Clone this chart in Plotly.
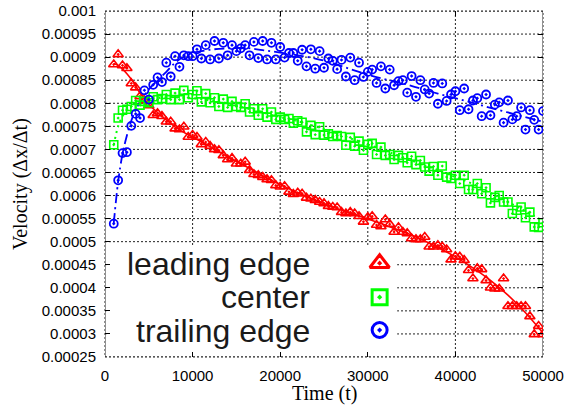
import plotly.graph_objects as go

# ---------------- data ----------------
time = list(range(1000, 50001, 500))

leading_edge = [
    0.000884, 0.000906, 0.000882, 0.000876, 0.000843, 0.000834, 0.000815, 0.000806, 0.000795, 0.000774,
    0.000778, 0.000772, 0.000760, 0.000760, 0.000745, 0.000743, 0.000749, 0.000727, 0.000731, 0.000727,
    0.000711, 0.000716, 0.000707, 0.000700, 0.000698, 0.000687, 0.000678, 0.000681, 0.000669, 0.000669,
    0.000673, 0.000655, 0.000646, 0.000644, 0.000640, 0.000635, 0.000633, 0.000622, 0.000619, 0.000620,
    0.000608, 0.000603, 0.000606, 0.000604, 0.000595, 0.000593, 0.000590, 0.000586, 0.000583, 0.000577,
    0.000575, 0.000574, 0.000564, 0.000561, 0.000564, 0.000561, 0.000555, 0.000543, 0.000553, 0.000555,
    0.000536, 0.000533, 0.000548, 0.000538, 0.000521, 0.000531, 0.000521, 0.000518, 0.000507, 0.000505,
    0.000505, 0.000510, 0.000489, 0.000489, 0.000492, 0.000489, 0.000483, 0.000461, 0.000468, 0.000467,
    0.000460, 0.000438, 0.000420, 0.000442, 0.000440, 0.000416, 0.000400, 0.000398, 0.000398, 0.000420,
    0.000360, 0.000360, 0.000360, 0.000360, 0.000360, 0.000338, 0.000299, 0.000317, 0.000299,
]

center = [
    0.000710, 0.000768, 0.000785, 0.000787, 0.000793, 0.000806, 0.000796, 0.000804, 0.000801, 0.000814,
    0.000808, 0.000810, 0.000819, 0.000808, 0.000822, 0.000808, 0.000828, 0.000812, 0.000819, 0.000827,
    0.000803, 0.000821, 0.000801, 0.000812, 0.000793, 0.000809, 0.000791, 0.000804, 0.000793, 0.000791,
    0.000799, 0.000781, 0.000788, 0.000774, 0.000788, 0.000770, 0.000781, 0.000765, 0.000770, 0.000765,
    0.000767, 0.000757, 0.000762, 0.000759, 0.000738, 0.000752, 0.000732, 0.000749, 0.000731, 0.000734,
    0.000728, 0.000730, 0.000728, 0.000709, 0.000726, 0.000707, 0.000718, 0.000698, 0.000711, 0.000713,
    0.000689, 0.000705, 0.000687, 0.000689, 0.000678, 0.000687, 0.000682, 0.000671, 0.000685, 0.000667,
    0.000676, 0.000662, 0.000653, 0.000663, 0.000644, 0.000664, 0.000640, 0.000637, 0.000644, 0.000626,
    0.000644, 0.000613, 0.000613, 0.000626, 0.000604, 0.000617, 0.000584, 0.000596, 0.000600, 0.000586,
    0.000586, 0.000561, 0.000568, 0.000575, 0.000552, 0.000564, 0.000532, 0.000531, 0.000541,
]

trailing_edge = [
    0.000539, 0.000633, 0.000692, 0.000694, 0.000751, 0.000777, 0.000768, 0.000828, 0.000808, 0.000840,
    0.000856, 0.000846, 0.000888, 0.000858, 0.000902, 0.000879, 0.000904, 0.000902, 0.000902, 0.000917,
    0.000897, 0.000926, 0.000895, 0.000935, 0.000897, 0.000931, 0.000904, 0.000926, 0.000913, 0.000919,
    0.000926, 0.000904, 0.000933, 0.000898, 0.000935, 0.000895, 0.000931, 0.000895, 0.000922, 0.000899,
    0.000909, 0.000909, 0.000892, 0.000916, 0.000880, 0.000917, 0.000875, 0.000913, 0.000877, 0.000897,
    0.000892, 0.000874, 0.000894, 0.000858, 0.000899, 0.000850, 0.000888, 0.000857, 0.000868, 0.000873,
    0.000844, 0.000880, 0.000832, 0.000873, 0.000839, 0.000848, 0.000850, 0.000823, 0.000859, 0.000814,
    0.000850, 0.000830, 0.000821, 0.000844, 0.000799, 0.000843, 0.000805, 0.000819, 0.000826, 0.000785,
    0.000832, 0.000787, 0.000806, 0.000811, 0.000772, 0.000819, 0.000774, 0.000797, 0.000802, 0.000758,
    0.000806, 0.000765, 0.000772, 0.000791, 0.000743, 0.000785, 0.000764, 0.000743, 0.000783,
]

# fitted curves
fit_time = [1000, 1500, 2000, 2500, 3000, 3500, 4000, 5000, 6000, 7000, 8000, 9000, 10000,
            12000, 14000, 16000, 18000, 20000, 22000, 24000, 26000, 28000, 30000, 32000,
            34000, 36000, 38000, 40000, 42000, 44000, 46000, 48000, 50000]
fit_leading = [0.000886, 0.000882, 0.000874, 0.000864, 0.000852, 0.000838, 0.000822, 0.000798, 0.000780,
               0.000764, 0.000749, 0.000737, 0.000727, 0.000706, 0.000684, 0.000664, 0.000643, 0.000624,
               0.000606, 0.000590, 0.000575, 0.000562, 0.000549, 0.000536, 0.000522, 0.000506, 0.000488,
               0.000467, 0.000443, 0.000416, 0.000384, 0.000346, 0.000302]
fit_center = [0.000710, 0.000750, 0.000772, 0.000785, 0.000793, 0.000799, 0.000803, 0.000808, 0.000811,
              0.000813, 0.000813, 0.000812, 0.000811, 0.000806, 0.000800, 0.000790, 0.000780, 0.000770,
              0.000761, 0.000750, 0.000738, 0.000724, 0.000711, 0.000697, 0.000683, 0.000669, 0.000655,
              0.000640, 0.000625, 0.000606, 0.000586, 0.000566, 0.000545]
fit_trailing = [0.000540, 0.000630, 0.000690, 0.000730, 0.000762, 0.000785, 0.000803, 0.000830, 0.000850,
                0.000868, 0.000888, 0.000901, 0.000909, 0.000916, 0.000919, 0.000920, 0.000915, 0.000910,
                0.000904, 0.000897, 0.000887, 0.000874, 0.000862, 0.000852, 0.000843, 0.000832, 0.000821,
                0.000811, 0.000801, 0.000790, 0.000780, 0.000770, 0.000760]

series_names = ["leading edge", "center", "trailing edge"]
x_tick_vals = [0, 10000, 20000, 30000, 40000, 50000]
x_tick_text = ["0", "10000", "20000", "30000", "40000", "50000"]
y_tick_vals = [0.00025, 0.0003, 0.00035, 0.0004, 0.00045, 0.0005, 0.00055, 0.0006, 0.00065,
               0.0007, 0.00075, 0.0008, 0.00085, 0.0009, 0.00095, 0.001]
y_tick_text = ["0.00025", "0.0003", "0.00035", "0.0004", "0.00045", "0.0005", "0.00055", "0.0006",
               "0.00065", "0.0007", "0.00075", "0.0008", "0.00085", "0.0009", "0.00095", "0.001"]

RED, GREEN, BLUE = "#ff0000", "#00ff00", "#0000ff"
GRID = "#222222"
GRID_DASH = "2px,2px"

fig = go.Figure()

# fit lines
fig.add_trace(go.Scatter(x=fit_time, y=fit_leading, mode="lines", line=dict(color=RED, width=1.6),
                         line_shape="spline", showlegend=False, hoverinfo="skip"))
fig.add_trace(go.Scatter(x=fit_time, y=fit_center, mode="lines", line=dict(color=GREEN, width=2, dash="2px,4px"),
                         line_shape="spline", showlegend=False, hoverinfo="skip"))
fig.add_trace(go.Scatter(x=fit_time, y=fit_trailing, mode="lines",
                         line=dict(color=BLUE, width=1.8, dash="10px,4px,2px,4px"),
                         line_shape="spline", showlegend=False, hoverinfo="skip"))

# data points
fig.add_trace(go.Scatter(x=time, y=leading_edge, mode="markers", name=series_names[0],
                         marker=dict(symbol="triangle-up-open-dot", size=9, color=RED, line=dict(width=1.6, color=RED)),
                         showlegend=False))
fig.add_trace(go.Scatter(x=time, y=center, mode="markers", name=series_names[1],
                         marker=dict(symbol="square-open-dot", size=8, color=GREEN, line=dict(width=1.6, color=GREEN)),
                         showlegend=False))
fig.add_trace(go.Scatter(x=time, y=trailing_edge, mode="markers", name=series_names[2],
                         marker=dict(symbol="circle-open-dot", size=8, color=BLUE, line=dict(width=1.8, color=BLUE)),
                         showlegend=False))

# key symbols on an overlay axis spanning the plot area
key_x = [0.627, 0.627, 0.627]
key_y = [0.271, 0.173, 0.078]
for sym, col, sz, kx, ky in zip(["triangle-up-open-dot", "square-open-dot", "circle-open-dot"],
                                 [RED, GREEN, BLUE], [17, 15, 15], key_x, key_y):
    fig.add_trace(go.Scatter(x=[kx], y=[ky], xaxis="x2", yaxis="y2", mode="markers",
                             marker=dict(symbol=sym, size=sz, color=col, line=dict(width=3, color=col)),
                             showlegend=False, hoverinfo="skip"))

axis_kw = dict(showgrid=False, zeroline=False, showline=False, ticks="inside", ticklen=5, tickwidth=1,
               tickcolor="#000000", mirror="ticks", automargin=False,
               tickfont=dict(family="Liberation Sans, Arial, sans-serif", size=15, color="#000000"))

# grid lines drawn as dotted shapes below the data, then the opaque key box, then the frame
shapes = []
for xv in x_tick_vals:
    shapes.append(dict(type="line", xref="x", yref="y domain", x0=xv, x1=xv, y0=0, y1=1,
                       line=dict(color=GRID, width=1, dash=GRID_DASH), layer="below"))
for yv in y_tick_vals:
    shapes.append(dict(type="line", xref="x domain", yref="y", x0=0, x1=1, y0=yv, y1=yv,
                       line=dict(color=GRID, width=1, dash=GRID_DASH), layer="below"))
shapes.append(dict(type="rect", xref="x domain", yref="y domain", x0=0.003, x1=0.667, y0=0.003, y1=0.323,
                   fillcolor="white", line=dict(width=0), layer="below"))
shapes.append(dict(type="rect", xref="x domain", yref="y domain", x0=0, x1=1, y0=0, y1=1,
                   line=dict(color=GRID, width=1, dash=GRID_DASH), layer="below"))

fig.update_layout(
    width=565, height=407,
    margin=dict(l=105, r=22, t=11, b=50, autoexpand=False),
    paper_bgcolor="white", plot_bgcolor="white",
    showlegend=False,
    xaxis=dict(range=[0, 50000], tickvals=x_tick_vals, ticktext=x_tick_text, ticklabelstandoff=8, **axis_kw),
    yaxis=dict(range=[0.00025, 0.001], tickvals=y_tick_vals, ticktext=y_tick_text, ticklabelstandoff=8, **axis_kw),
    xaxis2=dict(overlaying="x", range=[0, 1], visible=False),
    yaxis2=dict(overlaying="y", range=[0, 1], visible=False),
    shapes=shapes,
    annotations=[
        dict(text="Time (t)", xref="paper", yref="paper", x=0.5, y=0, yanchor="middle", xanchor="center",
             yshift=-36, showarrow=False, font=dict(family="Liberation Serif, Times New Roman, serif", size=20, color="#000")),
        dict(text="Velocity (Δx/Δt)", xref="paper", yref="paper", x=0, y=0.5, xanchor="center", yanchor="middle",
             xshift=-85, textangle=-90, showarrow=False,
             font=dict(family="Liberation Serif, Times New Roman, serif", size=20, color="#000")),
    ],
)

key_text_y = [0.268, 0.1725, 0.0743]
for name, ty in zip(series_names, key_text_y):
    fig.add_annotation(text=name, xref="paper", yref="paper", x=0.4726, y=ty, xanchor="right", yanchor="middle",
                       showarrow=False, font=dict(family="Liberation Sans, Arial, sans-serif", size=32, color="#1a1a1a"))

fig.write_html("out.html")
